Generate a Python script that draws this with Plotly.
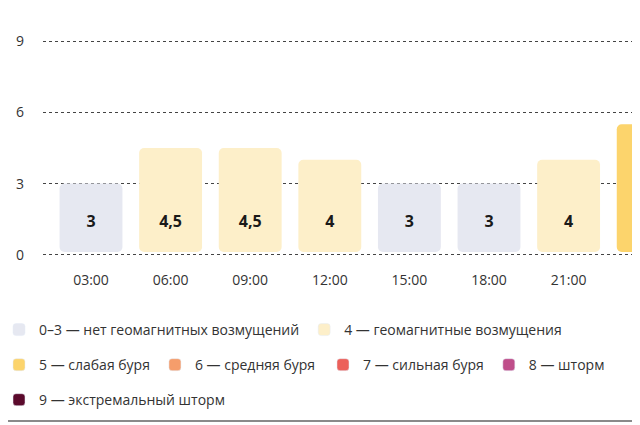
import plotly.graph_objects as go

# kp-index forecast, 3h steps
hours = ["03:00", "06:00", "09:00", "12:00", "15:00", "18:00", "21:00", "00:00"]
kp_values = [3, 4.5, 4.5, 4, 3, 3, 4, 5.5]
kp_labels = ["3", "4,5", "4,5", "4", "3", "3", "4", "5,5"]

legend_names = [
    "0–3 — нет геомагнитных возмущений",
    "4 — геомагнитные возмущения",
    "5 — слабая буря",
    "6 — средняя буря",
    "7 — сильная буря",
    "8 — шторм",
    "9 — экстремальный шторм",
]
legend_colors = ["#e6e8f1", "#fdefc9", "#fcd46c", "#f59d6b", "#ec605a", "#bf4e8a", "#5b0a2c"]
# legend box of each entry (row 2 is split in two boxes so it doesn't wrap)
legend_rows = ["legend", "legend", "legend2", "legend2", "legend4", "legend4", "legend3"]


def kp_color(v):
    if v < 4:
        return legend_colors[0]
    if v < 5:
        return legend_colors[1]
    return legend_colors[min(int(v) - 3, 6)]


fig = go.Figure()

fig.add_trace(go.Bar(
    x=hours,
    y=[v - 0.12 for v in kp_values],
    base=0.12,
    marker=dict(color=[kp_color(v) for v in kp_values], line=dict(width=0)),
    width=0.79,
    showlegend=False,
    hoverinfo="skip",
))

# labels sit at the same height inside every bar
fig.add_trace(go.Scatter(
    x=hours,
    y=[1.35] * len(hours),
    mode="text",
    text=kp_labels,
    textfont=dict(family="Open Sans", size=16, color="#1a1a1a", weight="bold"),
    showlegend=False,
    cliponaxis=False,
    hoverinfo="skip",
))

# last hour is outside the x range, so its tick label is drawn by hand (cut by the edge)
fig.add_trace(go.Scatter(
    x=hours[-1:],
    y=[-1.05],
    mode="text",
    text=hours[-1:],
    textfont=dict(family="Open Sans", size=14, color="#333333"),
    showlegend=False,
    cliponaxis=False,
    hoverinfo="skip",
))

for name, col, lg in zip(legend_names, legend_colors, legend_rows):
    fig.add_trace(go.Bar(x=[None], y=[None], name=name, marker=dict(color=col), legend=lg))

legend_base = dict(
    orientation="h",
    xref="paper",
    yref="paper",
    x=-0.0737,
    xanchor="left",
    yanchor="middle",
    font=dict(family="Open Sans", size=14, color="#333333"),
    itemclick=False,
    bgcolor="rgba(0,0,0,0)",
)

fig.update_layout(
    width=640,
    height=425,
    margin=dict(l=35, r=8, t=32, b=177, autoexpand=False),
    paper_bgcolor="white",
    plot_bgcolor="white",
    barcornerradius=5,
    font=dict(family="Open Sans", size=14, color="#333333"),
    xaxis=dict(
        range=[-0.603, 6.897],
        showgrid=False,
        showline=False,
        ticks="",
        tickfont=dict(size=14, color="#333333"),
        ticklabelstandoff=14,
        fixedrange=True,
    ),
    yaxis=dict(
        range=[-0.05, 9.05],
        tickvals=[0, 3, 6, 9],
        showgrid=True,
        gridcolor="#444444",
        griddash="dot",
        gridwidth=1,
        zeroline=False,
        showline=False,
        ticks="",
        ticklabelstandoff=18,
        tickfont=dict(size=14, color="#333333"),
        layer="above traces",
    ),
    legend=dict(legend_base, y=-0.3426),
    legend2=dict(legend_base, y=-0.505),
    legend4=dict(legend_base, x=0.469, y=-0.505),
    legend3=dict(legend_base, y=-0.667),
    shapes=[dict(
        type="line", xref="paper", yref="paper",
        x0=-0.2, x1=1.05, y0=-0.764, y1=-0.764,
        line=dict(color="#8a8a8a", width=2),
    )],
)

fig.write_html("out.html")
